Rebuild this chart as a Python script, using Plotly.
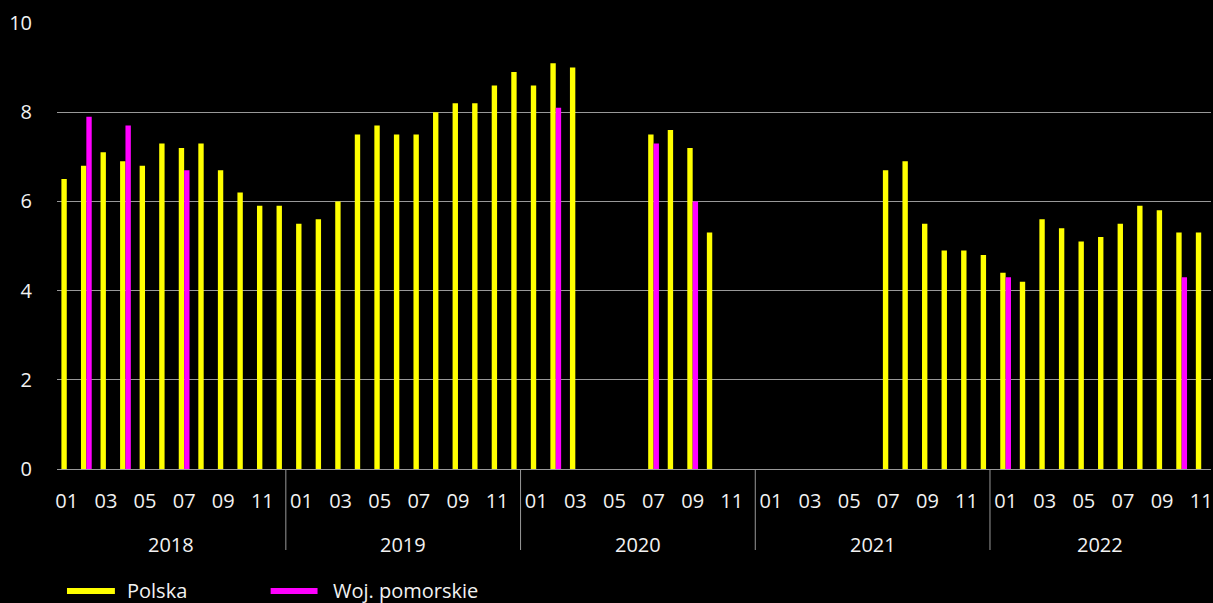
import plotly.graph_objects as go

# ---- data ----
years = ["2018"] * 12 + ["2019"] * 12 + ["2020"] * 12 + ["2021"] * 12 + ["2022"] * 11
months = [f"{m:02d}" for m in range(1, 13)] * 4 + [f"{m:02d}" for m in range(1, 12)]
year_labels = ["2018", "2019", "2020", "2021", "2022"]

polska = [6.5, 6.8, 7.1, 6.9, 6.8, 7.3, 7.2, 7.3, 6.7, 6.2, 5.9, 5.9,
          5.5, 5.6, 6.0, 7.5, 7.7, 7.5, 7.5, 8.0, 8.2, 8.2, 8.6, 8.9,
          8.6, 9.1, 9.0, None, None, None, 7.5, 7.6, 7.2, 5.3, None, None,
          None, None, None, None, None, None, 6.7, 6.9, 5.5, 4.9, 4.9, 4.8,
          4.4, 4.2, 5.6, 5.4, 5.1, 5.2, 5.5, 5.9, 5.8, 5.3, 5.3]

pomorskie = [None, 7.9, None, 7.7, None, None, 6.7, None, None, None, None, None,
             None, None, None, None, None, None, None, None, None, None, None, None,
             None, 8.1, None, None, None, None, 7.3, None, 6.0, None, None, None,
             None, None, None, None, None, None, None, None, None, None, None, None,
             4.3, None, None, None, None, None, None, None, None, 4.3, None]

series_names = ["Polska", "Woj. pomorskie"]
series_colors = ["#FFFF00", "#FF00FF"]

y_ticks = [0, 2, 4, 6, 8, 10]

# ---- figure ----
W, H = 1213, 603
ML, MR, MT, MB = 57, 0, 23, 134
FONT = "Open Sans"
GRID = "#999999"
TXT = "#f2f2f2"

cats = [f"{y}-{m}" for y, m in zip(years, months)]
n = len(cats)

fig = go.Figure()
for name, vals, col in zip(series_names, [polska, pomorskie], series_colors):
    fig.add_trace(go.Bar(
        x=cats, y=vals, name=name,
        marker=dict(color=col, line=dict(width=0)),
        showlegend=False,
    ))

pw, ph = W - ML - MR, H - MT - MB
def px2x(px):
    return (px - ML) / pw
def py2y(py):
    return (H - MB - py) / ph

shapes = []
annotations = []

# year group dividers + year labels under the month labels
starts = [years.index(y) for y in year_labels]
div_pos = [s - 0.8 for s in starts[1:]]
bounds = [-0.5] + div_pos + [n - 0.5]
for d in div_pos:
    shapes.append(dict(type="line", xref="x", yref="paper", x0=d, x1=d,
                       y0=0, y1=py2y(550), line=dict(color=GRID, width=1)))
for i, yl in enumerate(year_labels):
    annotations.append(dict(xref="x", yref="paper", x=(bounds[i] + bounds[i + 1]) / 2,
                            y=py2y(544), xanchor="center", yanchor="middle",
                            showarrow=False, text=yl,
                            font=dict(family=FONT, size=20, color=TXT)))

# legend drawn as line swatches + labels
legend_items = [(67, 115, 125), (271, 318, 331)]
for (x0, x1, tx), name, col in zip(legend_items, series_names, series_colors):
    shapes.append(dict(type="line", xref="paper", yref="paper",
                       x0=px2x(x0), x1=px2x(x1), y0=py2y(591), y1=py2y(591),
                       line=dict(color=col, width=6)))
    annotations.append(dict(xref="paper", yref="paper", x=px2x(tx), y=py2y(590),
                            xanchor="left", yanchor="middle", showarrow=False,
                            text=name, font=dict(family=FONT, size=20, color=TXT)))

fig.update_layout(
    width=W, height=H,
    margin=dict(l=ML, r=MR, t=MT, b=MB),
    paper_bgcolor="#000000", plot_bgcolor="#000000",
    barmode="group", bargap=0.45, bargroupgap=0,
    font=dict(family=FONT, size=20, color=TXT),
    shapes=shapes, annotations=annotations,
    showlegend=False,
)
fig.update_xaxes(
    type="category", range=[-0.5, n - 0.5],
    tickmode="array", tickvals=cats[::2], ticktext=months[::2], tickangle=0,
    showline=True, linecolor=GRID, linewidth=1,
    showgrid=False, ticks="", ticklabelstandoff=14,
    tickfont=dict(family=FONT, size=20, color=TXT),
)
fig.update_yaxes(
    range=[0, 10], tickvals=y_ticks, showgrid=True, gridcolor=GRID, gridwidth=1,
    zeroline=False, showline=False, ticks="", ticklabelstandoff=24,
    tickfont=dict(family=FONT, size=20, color=TXT),
)

fig.write_html("out.html", config={"displayModeBar": False},
               post_script="document.body.style.margin='0';")
